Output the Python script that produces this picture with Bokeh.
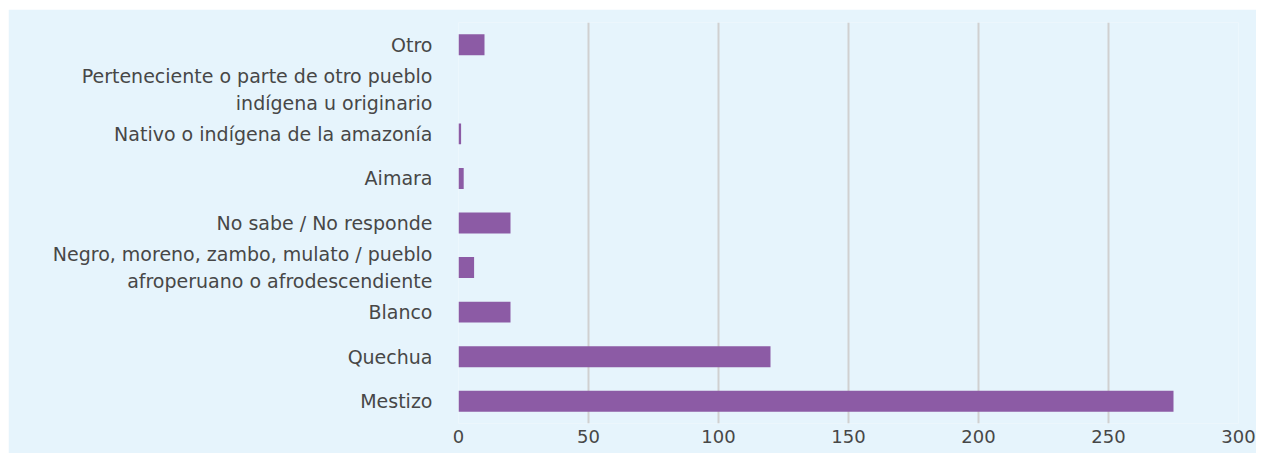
from bokeh.plotting import figure
from bokeh.models import Range1d, FactorRange, FixedTicker, ColumnDataSource
from bokeh.embed import file_html
from bokeh.resources import INLINE

categories = [
    "Mestizo",
    "Quechua",
    "Blanco",
    "Negro, moreno, zambo, mulato / pueblo\nafroperuano o afrodescendiente",
    "No sabe / No responde",
    "Aimara",
    "Nativo o indígena de la amazonía",
    "Perteneciente o parte de otro pueblo\nindígena u originario",
    "Otro",
]
values = [275, 120, 20, 6, 20, 2, 1, 0, 10]
x_ticks = [0, 50, 100, 150, 200, 250, 300]

BG = "#e6f4fc"
FONT = "DejaVu Sans"
TXT = "#474747"

src = ColumnDataSource(dict(cat=categories, val=values))

p = figure(
    width=1248, height=444,
    y_range=FactorRange(factors=categories, range_padding=0),
    x_range=Range1d(0, 300),
    output_backend="svg", toolbar_location=None,
    min_border_left=450, min_border_right=18,
    min_border_top=13, min_border_bottom=30,
)
p.margin = (9, 0, 0, 8)
p.background_fill_color = BG
p.border_fill_color = BG
p.outline_line_color = None

p.hbar(y="cat", right="val", left=0, height=0.47, source=src,
       fill_color="#8c5ba5", line_color=None)

p.xgrid.grid_line_color = "#d0d0d0"
p.xgrid.grid_line_width = 2
p.ygrid.grid_line_color = None
p.xaxis.ticker = FixedTicker(ticks=x_ticks)

for ax in (p.xaxis[0], p.yaxis[0]):
    ax.axis_line_color = None
    ax.major_tick_line_color = None
    ax.minor_tick_line_color = None
    ax.major_label_text_font = FONT
    ax.major_label_text_color = TXT

p.yaxis.major_label_text_font_size = "19px"
p.xaxis.major_label_text_font_size = "18px"
p.yaxis.major_label_standoff = 20
p.xaxis.major_label_standoff = 0

open("out.html", "w").write(file_html(p, INLINE))
